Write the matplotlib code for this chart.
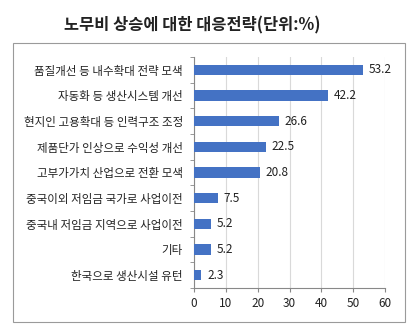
import matplotlib.pyplot as plt
from matplotlib.patches import Rectangle

plt.rcParams['font.family'] = ['Noto Sans CJK KR', 'DejaVu Sans']

categories = ['품질개선 등 내수확대 전략 모색', '자동화 등 생산시스템 개선', '현지인 고용확대 등 인력구조 조정',
              '제품단가 인상으로 수익성 개선', '고부가가치 산업으로 전환 모색', '중국이외 저임금 국가로 사업이전',
              '중국내 저임금 지역으로 사업이전', '기타', '한국으로 생산시설 유턴']
values = [53.2, 42.2, 26.6, 22.5, 20.8, 7.5, 5.2, 5.2, 2.3]
xticks = [0, 10, 20, 30, 40, 50, 60]

fig = plt.figure(figsize=(4.13, 3.30), dpi=100)
fig.patches.append(Rectangle((13 / 413, 1 - 322 / 330), 392 / 413, 279 / 330, transform=fig.transFigure,
                             fill=False, edgecolor='#9a9a9a', linewidth=0.8))
fig.text(0.465, 1 - 25 / 330, '노무비 상승에 대한 대응전략(단위:%)', ha='center', va='center',
         fontsize=11.8, fontweight='bold', color='#222222')

ax = fig.add_axes([194 / 413, 1 - 288 / 330, 191 / 413, 231 / 330])
y = list(range(len(categories)))
ax.barh(y, values, height=0.4, color='#4472C4', zorder=3)
for yi, v in zip(y, values):
    ax.text(v + 1.8, yi, f'{v}', va='center', ha='left', fontsize=8.5, color='#222222')

ax.set_ylim(len(categories) - 0.5, -0.5)
ax.set_xlim(0, 60)
ax.set_xticks(xticks)
ax.set_yticks(y)
ax.set_yticklabels(categories, fontsize=8.3, color='#222222')
ax.set_yticks([i - 0.5 for i in range(len(categories) + 1)], minor=True)
ax.tick_params(axis='y', which='major', length=0, pad=8)
ax.tick_params(axis='y', which='minor', length=3, color='#888888')
ax.tick_params(axis='x', length=3, color='#888888', labelsize=8.5, labelcolor='#222222')
ax.grid(axis='x', color='#d9d9d9', linewidth=0.8, zorder=0)
for s in ['top', 'right']:
    ax.spines[s].set_visible(False)
ax.spines['left'].set_color('#888888')
ax.spines['bottom'].set_color('#888888')

plt.savefig('out.png', dpi=100)
